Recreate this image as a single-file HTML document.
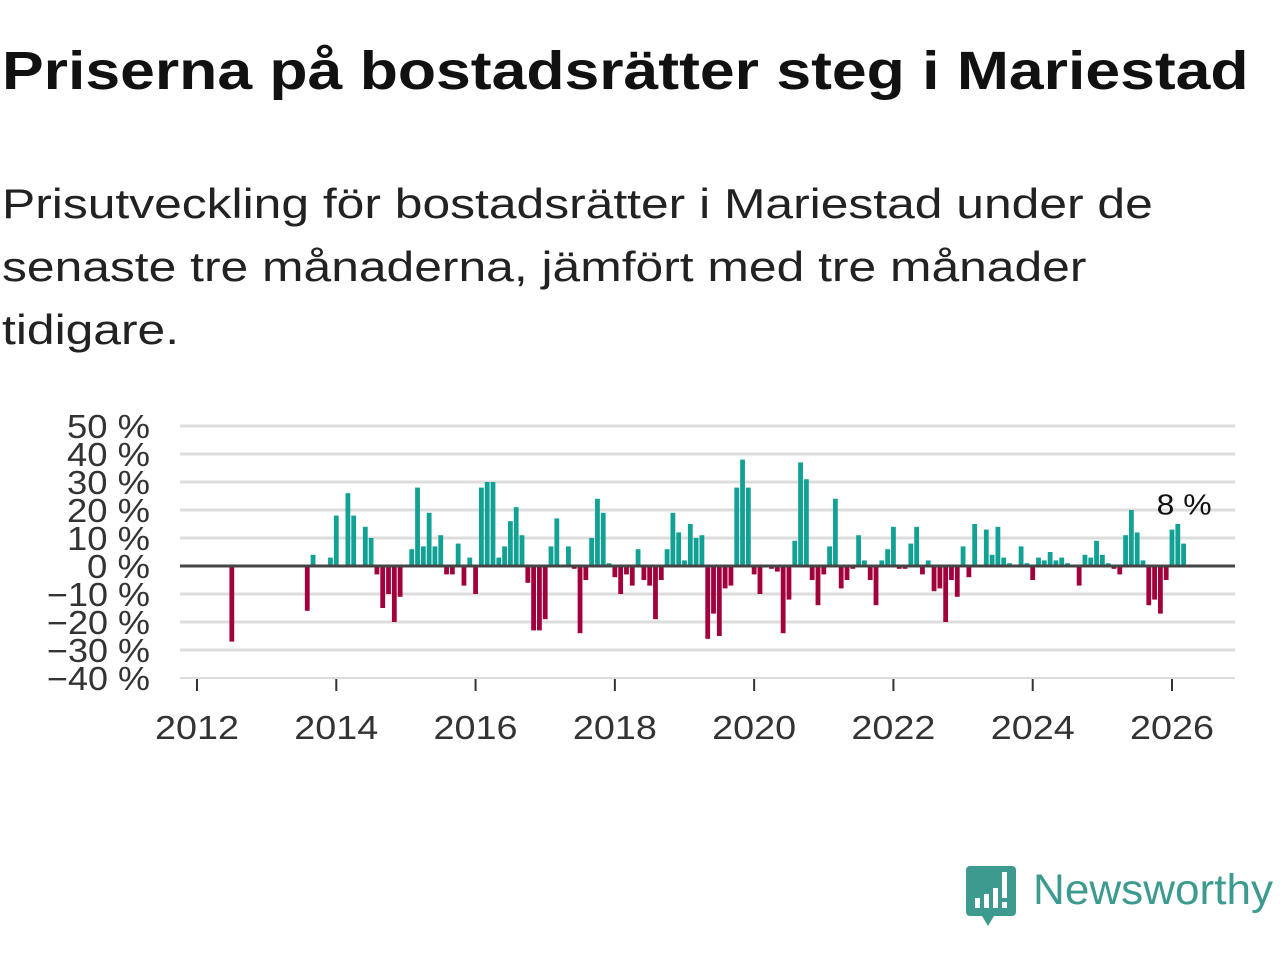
<!DOCTYPE html>
<html><head><meta charset="utf-8">
<style>
body{margin:0;width:1280px;height:960px;background:#fff;overflow:hidden;font-family:"Liberation Sans",sans-serif;}
h1{position:absolute;left:2px;top:40px;margin:0;font-size:54px;font-weight:bold;color:#111;white-space:nowrap;transform:scaleX(1.157);transform-origin:left top;}
p.sub{position:absolute;left:2px;top:172px;margin:0;font-size:42px;line-height:63px;color:#222;white-space:nowrap;transform:scaleX(1.185);transform-origin:left top;}
</style></head><body>
<h1>Priserna på bostadsrätter steg i Mariestad</h1>
<p class="sub">Prisutveckling för bostadsrätter i Mariestad under de<br>senaste tre månaderna, jämfört med tre månader<br>tidigare.</p>
<svg id="chart" width="1280" height="960" style="position:absolute;left:0;top:0" xmlns="http://www.w3.org/2000/svg"></svg>
<svg style="position:absolute;left:960px;top:862px" width="320" height="70" xmlns="http://www.w3.org/2000/svg">
<path d="M10 4 H52 a4 4 0 0 1 4 4 V50 a4 4 0 0 1 -4 4 H34 L28 64 L22 54 H10 a4 4 0 0 1 -4 -4 V8 a4 4 0 0 1 4 -4Z" fill="#3d9a8f"/>
<rect x="15" y="36" width="5" height="10" fill="#fff"/><rect x="24" y="32" width="5" height="14" fill="#fff"/><rect x="33" y="26" width="5" height="20" fill="#fff"/><rect x="42" y="10" width="5" height="26" fill="#fff"/><rect x="42" y="40" width="5" height="6" fill="#fff"/>
<text x="73" y="42" font-family="Liberation Sans, sans-serif" font-size="43" textLength="240" lengthAdjust="spacingAndGlyphs" fill="#3d9a8f">Newsworthy</text>
</svg>
<script>
const yTicks=[50,40,30,20,10,0,-10,-20,-30,-40];
const yearTicks=[2012,2014,2016,2018,2020,2022,2024,2026];
const startYear=2012;
const values=[0,0,0,0,0,0,-27,0,0,0,0,0,0,0,0,0,0,0,0,-16,
4,0,0,3,18,0,26,18,0,14,10,-3,-15,-10,-20,-11,0,6,28,7,
19,7,11,-3,-3,8,-7,3,-10,28,30,30,3,7,16,21,11,-6,-23,-23,
-19,7,17,0,7,-1,-24,-5,10,24,19,1,-4,-10,-3,-7,6,-5,-7,-19,
-5,6,19,12,2,15,10,11,-26,-17,-25,-8,-7,28,38,28,-3,-10,0,-1,
-2,-24,-12,9,37,31,-5,-14,-3,7,24,-8,-5,-1,11,2,-5,-14,2,6,
14,-1,-1,8,14,-3,2,-9,-8,-20,-5,-11,7,-4,15,0,13,4,14,3,
1,0,7,1,-5,3,2,5,2,3,1,0,-7,4,3,9,4,1,-1,-3,
11,20,12,2,-14,-12,-17,-5,13,15,8];
const categories=values.map((v,i)=>(startYear+Math.floor(i/12))+'-'+String(i%12+1).padStart(2,'0'));
const lastLabel='8 %';

const svg=document.getElementById('chart');
const NS='http://www.w3.org/2000/svg';
const y=v=>566-v*2.8;
const x=i=>197+i*(975/168);
const xYear=yr=>x((yr-startYear)*12);
function el(t,a){const e=document.createElementNS(NS,t);for(const k in a)e.setAttribute(k,a[k]);svg.appendChild(e);return e;}
yTicks.forEach(t=>{
  if(t!==0&&t!==-40){const g=el('line',{x1:180,x2:1235,y1:y(t),y2:y(t),stroke:'#dcdcdc','stroke-width':3});
  
  }
  const s=(t<0?'−'+(-t):t)+' %';
  const w=(s.length-2)*20+43;
  const lb=el('text',{x:150-w,y:y(t)+12,'font-size':33,fill:'#333','font-family':'Liberation Sans, sans-serif',textLength:w,lengthAdjust:'spacingAndGlyphs'});
  lb.textContent=s;
  
  
});
const xa=el('line',{x1:180,x2:1235,y1:678,y2:678,stroke:'#dcdcdc','stroke-width':2});


yearTicks.forEach(yr=>{
  const tk=el('line',{x1:xYear(yr),x2:xYear(yr),y1:679,y2:691,stroke:'#333','stroke-width':2});
  
  
  const lb=el('text',{x:xYear(yr)-42,y:739,'font-size':33,fill:'#333','font-family':'Liberation Sans, sans-serif',textLength:84,lengthAdjust:'spacingAndGlyphs'});
  lb.textContent=yr;
  
  
});
values.forEach((v,i)=>{
  if(v===0)return;
  const top=Math.min(y(v),y(0)),h=Math.abs(y(v)-y(0));
  const b=el('rect',{x:x(i)-2.4,y:top,width:4.8,height:h,fill:v>0?'#12a195':'#a1003d'});
  
  
});
const zl=el('line',{x1:180,x2:1235,y1:y(0),y2:y(0),stroke:'#444','stroke-width':3});


const li=values.length-1;
const ll=el('text',{x:x(li)-27,y:y(values[li])-29,'font-size':29,fill:'#111','font-family':'Liberation Sans, sans-serif',textLength:55,lengthAdjust:'spacingAndGlyphs'});
ll.textContent=lastLabel;


</script>
</body></html>
